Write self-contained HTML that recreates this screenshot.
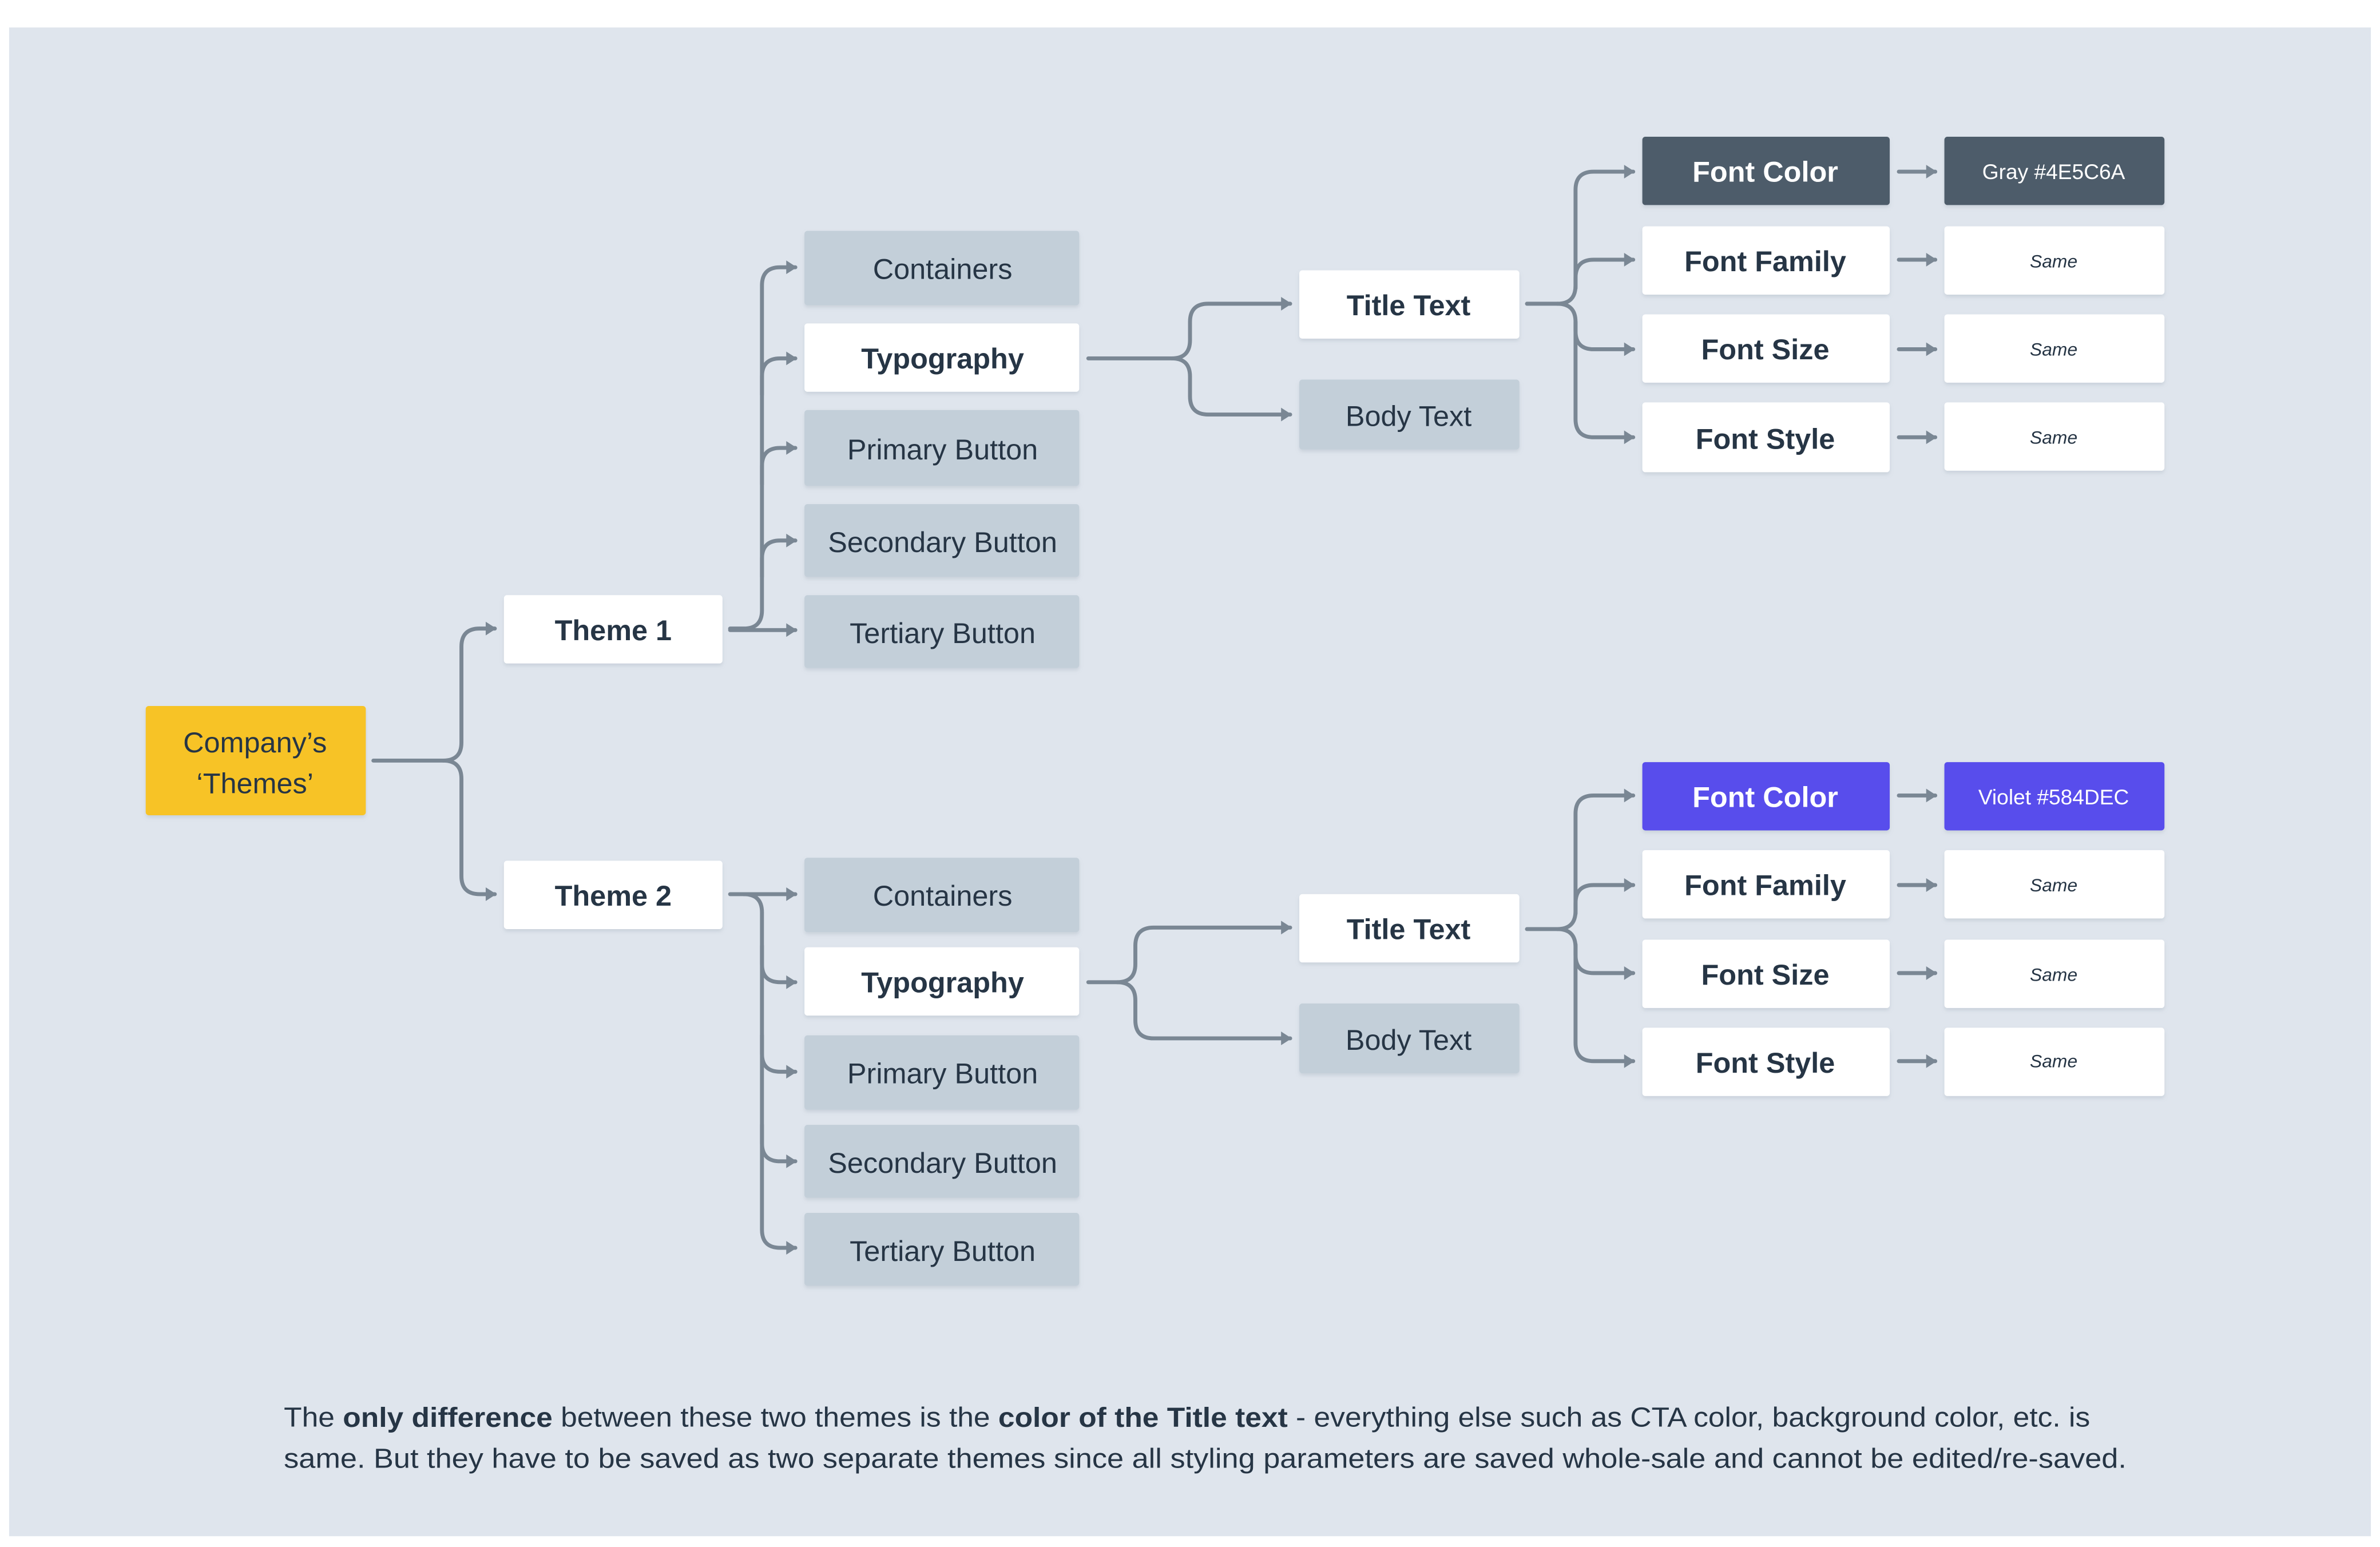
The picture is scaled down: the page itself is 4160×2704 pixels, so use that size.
<!DOCTYPE html>
<html><head><meta charset="utf-8"><style>
html,body{margin:0;padding:0;background:#fff;width:4160px;height:2704px;overflow:hidden}
svg{display:block}
text{font-family:"Liberation Sans",sans-serif;fill:#263545;text-anchor:middle;dominant-baseline:central}
.n{font-size:19px}
.b{font-size:19px;font-weight:bold}
.s{font-size:12px;font-style:italic}
.c{stroke:#7a8794;stroke-width:2.6;fill:none;stroke-linecap:round;stroke-linejoin:round}
</style></head><body>
<svg width="4160" height="2704" viewBox="0 0 1568 1019" xmlns="http://www.w3.org/2000/svg">
<defs>
<marker id="a" markerUnits="userSpaceOnUse" markerWidth="10" markerHeight="10" refX="7" refY="5" orient="auto">
<path d="M1,0.5 L8,5 L1,9.5 Z" fill="#7a8794"/></marker>
<filter id="sh" x="-10%" y="-10%" width="120%" height="140%"><feDropShadow dx="0" dy="1.5" stdDeviation="1.2" flood-color="#8a97a5" flood-opacity="0.25"/></filter>
</defs>
<rect x="6" y="18" width="1556" height="994" fill="#dfe5ed"/>

<g class="c">
<!-- company -->
<path d="M246,501 H292 Q304,501 304,489 V426 Q304,414 316,414 H326" marker-end="url(#a)"/>
<path d="M292,501 Q304,501 304,513 V577 Q304,589 316,589 H326" marker-end="url(#a)"/>
<!-- theme1 -->
<path d="M481,414 H490 Q502,414 502,402 V188 Q502,176 514,176 H524" marker-end="url(#a)"/>
<path d="M502,260 V248 Q502,236 514,236 H524" marker-end="url(#a)"/>
<path d="M502,319 V307 Q502,295 514,295 H524" marker-end="url(#a)"/>
<path d="M502,380 V368 Q502,356 514,356 H524" marker-end="url(#a)"/>
<path d="M481,415 H524" marker-end="url(#a)"/>
<!-- theme2 -->
<path d="M481,589 H524" marker-end="url(#a)"/>
<path d="M490,589 Q502,589 502,601 V810 Q502,822 514,822 H524" marker-end="url(#a)"/>
<path d="M502,623 V635 Q502,647 514,647 H524" marker-end="url(#a)"/>
<path d="M502,682 V694 Q502,706 514,706 H524" marker-end="url(#a)"/>
<path d="M502,741 V753 Q502,765 514,765 H524" marker-end="url(#a)"/>
<!-- typography1 -->
<path d="M717,236 H772 Q784,236 784,224 V212 Q784,200 796,200 H850" marker-end="url(#a)"/>
<path d="M772,236 Q784,236 784,248 V261 Q784,273 796,273 H850" marker-end="url(#a)"/>
<!-- typography2 -->
<path d="M717,647 H736 Q748,647 748,635 V623 Q748,611 760,611 H850" marker-end="url(#a)"/>
<path d="M736,647 Q748,647 748,659 V672 Q748,684 760,684 H850" marker-end="url(#a)"/>
<!-- title1 -->
<path d="M1006,200 H1026 Q1038,200 1038,188 V125 Q1038,113 1050,113 H1076" marker-end="url(#a)"/>
<path d="M1038,190 V183 Q1038,171 1050,171 H1076" marker-end="url(#a)"/>
<path d="M1026,200 Q1038,200 1038,212 V276 Q1038,288 1050,288 H1076" marker-end="url(#a)"/>
<path d="M1038,212 V218 Q1038,230 1050,230 H1076" marker-end="url(#a)"/>
<!-- title2 -->
<path d="M1006,612 H1026 Q1038,612 1038,600 V536 Q1038,524 1050,524 H1076" marker-end="url(#a)"/>
<path d="M1038,602 V595 Q1038,583 1050,583 H1076" marker-end="url(#a)"/>
<path d="M1026,612 Q1038,612 1038,624 V687 Q1038,699 1050,699 H1076" marker-end="url(#a)"/>
<path d="M1038,622 V629 Q1038,641 1050,641 H1076" marker-end="url(#a)"/>
<!-- values -->
<path d="M1251,113 H1275" marker-end="url(#a)"/>
<path d="M1251,171 H1275" marker-end="url(#a)"/>
<path d="M1251,230 H1275" marker-end="url(#a)"/>
<path d="M1251,288 H1275" marker-end="url(#a)"/>
<path d="M1251,524 H1275" marker-end="url(#a)"/>
<path d="M1251,583 H1275" marker-end="url(#a)"/>
<path d="M1251,641 H1275" marker-end="url(#a)"/>
<path d="M1251,699 H1275" marker-end="url(#a)"/>
</g>

<g filter="url(#sh)">
<rect x="96" y="465" width="145" height="72" rx="2" fill="#f7c325"/>
<rect x="332" y="392" width="144" height="45" rx="2" fill="#fff"/>
<rect x="332" y="567" width="144" height="45" rx="2" fill="#fff"/>
<rect x="530" y="152" width="181" height="49" rx="2" fill="#c3cfd9"/>
<rect x="530" y="213" width="181" height="45" rx="2" fill="#fff"/>
<rect x="530" y="270" width="181" height="50" rx="2" fill="#c3cfd9"/>
<rect x="530" y="332" width="181" height="48" rx="2" fill="#c3cfd9"/>
<rect x="530" y="392" width="181" height="48" rx="2" fill="#c3cfd9"/>
<rect x="530" y="565" width="181" height="49" rx="2" fill="#c3cfd9"/>
<rect x="530" y="624" width="181" height="45" rx="2" fill="#fff"/>
<rect x="530" y="682" width="181" height="49" rx="2" fill="#c3cfd9"/>
<rect x="530" y="741" width="181" height="48" rx="2" fill="#c3cfd9"/>
<rect x="530" y="799" width="181" height="48" rx="2" fill="#c3cfd9"/>
<rect x="856" y="178" width="145" height="45" rx="2" fill="#fff"/>
<rect x="856" y="250" width="145" height="46" rx="2" fill="#c3cfd9"/>
<rect x="856" y="589" width="145" height="45" rx="2" fill="#fff"/>
<rect x="856" y="661" width="145" height="46" rx="2" fill="#c3cfd9"/>
<rect x="1082" y="90" width="163" height="45" rx="2" fill="#4e5c6a"/>
<rect x="1082" y="149" width="163" height="45" rx="2" fill="#fff"/>
<rect x="1082" y="207" width="163" height="45" rx="2" fill="#fff"/>
<rect x="1082" y="265" width="163" height="46" rx="2" fill="#fff"/>
<rect x="1082" y="502" width="163" height="45" rx="2" fill="#584dec"/>
<rect x="1082" y="560" width="163" height="45" rx="2" fill="#fff"/>
<rect x="1082" y="619" width="163" height="45" rx="2" fill="#fff"/>
<rect x="1082" y="677" width="163" height="45" rx="2" fill="#fff"/>
<rect x="1281" y="90" width="145" height="45" rx="2" fill="#4e5c6a"/>
<rect x="1281" y="149" width="145" height="45" rx="2" fill="#fff"/>
<rect x="1281" y="207" width="145" height="45" rx="2" fill="#fff"/>
<rect x="1281" y="265" width="145" height="45" rx="2" fill="#fff"/>
<rect x="1281" y="502" width="145" height="45" rx="2" fill="#584dec"/>
<rect x="1281" y="560" width="145" height="45" rx="2" fill="#fff"/>
<rect x="1281" y="619" width="145" height="45" rx="2" fill="#fff"/>
<rect x="1281" y="677" width="145" height="45" rx="2" fill="#fff"/>
</g>

<text class="n" x="168" y="489">Company’s</text>
<text class="n" x="168" y="516">‘Themes’</text>
<text class="b" x="404" y="415">Theme 1</text>
<text class="b" x="404" y="590">Theme 2</text>
<text class="n" x="621" y="177">Containers</text>
<text class="b" x="621" y="236">Typography</text>
<text class="n" x="621" y="296">Primary Button</text>
<text class="n" x="621" y="357">Secondary Button</text>
<text class="n" x="621" y="417">Tertiary Button</text>
<text class="n" x="621" y="590">Containers</text>
<text class="b" x="621" y="647">Typography</text>
<text class="n" x="621" y="707">Primary Button</text>
<text class="n" x="621" y="766">Secondary Button</text>
<text class="n" x="621" y="824">Tertiary Button</text>
<text class="b" x="928" y="201">Title Text</text>
<text class="n" x="928" y="274">Body Text</text>
<text class="b" x="928" y="612">Title Text</text>
<text class="n" x="928" y="685">Body Text</text>
<text class="b" x="1163" y="113" style="fill:#fff">Font Color</text>
<text class="b" x="1163" y="172">Font Family</text>
<text class="b" x="1163" y="230">Font Size</text>
<text class="b" x="1163" y="289">Font Style</text>
<text class="b" x="1163" y="525" style="fill:#fff">Font Color</text>
<text class="b" x="1163" y="583">Font Family</text>
<text class="b" x="1163" y="642">Font Size</text>
<text class="b" x="1163" y="700">Font Style</text>
<text x="1353" y="113" style="fill:#fff;font-size:14px">Gray #4E5C6A</text>
<text class="s" x="1353" y="172">Same</text>
<text class="s" x="1353" y="230">Same</text>
<text class="s" x="1353" y="288">Same</text>
<text x="1353" y="525" style="fill:#fff;font-size:14px">Violet #584DEC</text>
<text class="s" x="1353" y="583">Same</text>
<text class="s" x="1353" y="642">Same</text>
<text class="s" x="1353" y="699">Same</text>

<text x="187" y="934" style="text-anchor:start;font-size:18px" textLength="1190" lengthAdjust="spacingAndGlyphs">The <tspan font-weight="bold">only difference</tspan> between these two themes is the <tspan font-weight="bold">color of the Title text</tspan> - everything else such as CTA color, background color, etc. is</text>
<text x="187" y="961" style="text-anchor:start;font-size:18px" textLength="1214" lengthAdjust="spacingAndGlyphs">same. But they have to be saved as two separate themes since all styling parameters are saved whole-sale and cannot be edited/re-saved.</text>
</svg>
</body></html>
